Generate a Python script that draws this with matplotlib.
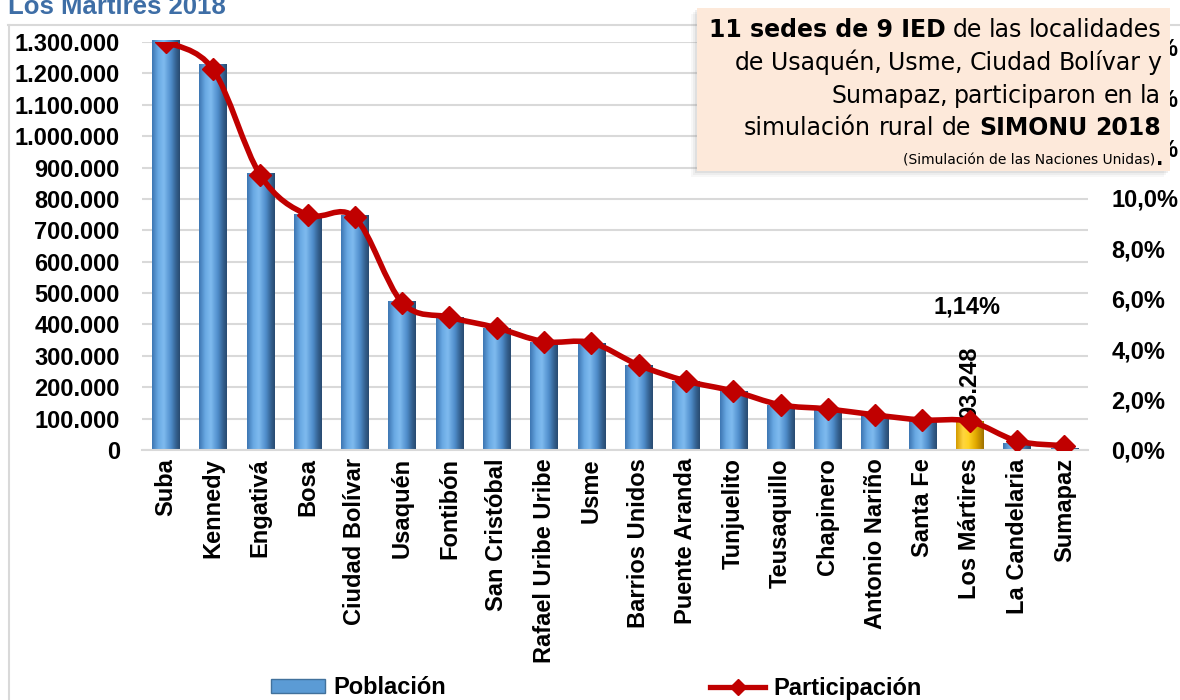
import matplotlib
matplotlib.use("Agg")
import matplotlib.pyplot as plt
import numpy as np
from matplotlib.path import Path
from matplotlib.patches import PathPatch, Rectangle, Patch
from matplotlib.lines import Line2D
from matplotlib.colors import LinearSegmentedColormap

# ---------------- data ----------------
localidades = ["Suba", "Kennedy", "Engativá", "Bosa", "Ciudad Bolívar", "Usaquén",
               "Fontibón", "San Cristóbal", "Rafael Uribe Uribe", "Usme",
               "Barrios Unidos", "Puente Aranda", "Tunjuelito", "Teusaquillo",
               "Chapinero", "Antonio Nariño", "Santa Fe", "Los Mártires",
               "La Candelaria", "Sumapaz"]
poblacion = [1306000, 1230000, 883000, 753000, 748000, 476000,
             424000, 390000, 345000, 342000,
             272000, 221000, 188000, 142000,
             129000, 110000, 92000, 93248,
             22000, 7000]
participacion = [16.20, 15.11, 10.91, 9.33, 9.23, 5.85,
                 5.27, 4.85, 4.30, 4.26,
                 3.37, 2.74, 2.34, 1.79,
                 1.63, 1.39, 1.19, 1.14,
                 0.36, 0.17]
highlight = "Los Mártires"
label_bar = "93.248"
label_pct = "1,14%"
left_ticks = list(range(0, 1300001, 100000))
right_ticks = list(range(0, 17, 2))
title = "Los Mártires 2018"
legend_labels = ["Población", "Participación"]

W, H = 1180, 700
fig = plt.figure(figsize=(W / 100, H / 100), dpi=100)

def fx(x):
    return x / W

def fy(y):
    return 1 - y / H

FONT = "Liberation Sans"
FS = 17

ax = fig.add_axes([fx(142), fy(450), (1088 - 142) / W, (450 - 42) / H])
ax2 = ax.twinx()

x = np.arange(len(localidades))

blue_cmap = LinearSegmentedColormap.from_list(
    "b", [(0, "#3D76B2"), (0.22, "#69A9E3"), (0.42, "#7FBBEF"), (0.68, "#4F8DCB"),
          (0.88, "#335F8D"), (1, "#284A70")])
gold_cmap = LinearSegmentedColormap.from_list(
    "g", [(0, "#D39A00"), (0.25, "#FFD640"), (0.45, "#FFD324"), (0.72, "#E0A800"),
          (0.9, "#B98600"), (1, "#9C7000")])
grad = np.linspace(0, 1, 64).reshape(1, -1)

bars = ax.bar(x, poblacion, width=0.58, color="none", edgecolor="none", zorder=2)
for name, rect in zip(localidades, bars):
    cmap = gold_cmap if name == highlight else blue_cmap
    x0 = rect.get_x()
    w = rect.get_width()
    h = rect.get_height()
    im = ax.imshow(grad, cmap=cmap, extent=[x0, x0 + w, 0, h], aspect="auto",
                   zorder=2, interpolation="bicubic")
    im.set_clip_path(rect)

ax.set_xlim(-0.5, len(localidades) - 0.5)
ax.set_ylim(0, 1300000)
ax.set_yticks(left_ticks)
ax.set_yticklabels([f"{v:,}".replace(",", ".") for v in left_ticks])
ax.set_xticks(x)
ax.set_xticklabels(localidades, rotation=90, va="top", ha="center")
ax.grid(axis="y", color="#D9D9D9", lw=1.5, zorder=0)
ax.set_axisbelow(True)
for s in ["top", "left", "right"]:
    ax.spines[s].set_visible(False)
ax.spines["bottom"].set_color("#D9D9D9")
ax.spines["bottom"].set_linewidth(1.5)
ax.tick_params(axis="y", length=0, pad=16)
ax.tick_params(axis="x", length=0, pad=6)
for lab in ax.get_yticklabels() + ax.get_xticklabels():
    lab.set_fontfamily(FONT)
    lab.set_fontweight("bold")
    lab.set_fontsize(FS)

# bar label
i_h = localidades.index(highlight)
ax.annotate(label_bar, (x[i_h], poblacion[i_h]), xytext=(0, 1.5), textcoords="offset points",
            rotation=90, ha="center", va="bottom", fontfamily=FONT, fontweight="bold",
            fontsize=FS, zorder=5)

# smoothed line (Catmull-Rom style Bezier)
def smooth_path(xs, ys):
    verts = [(xs[0], ys[0])]
    codes = [Path.MOVETO]
    n = len(xs)
    for i in range(n - 1):
        p0 = i - 1 if i > 0 else i
        p3 = i + 2 if i + 2 < n else i + 1
        c1 = (xs[i] + (xs[i + 1] - xs[p0]) / 6, ys[i] + (ys[i + 1] - ys[p0]) / 6)
        c2 = (xs[i + 1] - (xs[p3] - xs[i]) / 6, ys[i + 1] - (ys[p3] - ys[i]) / 6)
        verts += [c1, c2, (xs[i + 1], ys[i + 1])]
        codes += [Path.CURVE4] * 3
    return Path(verts, codes)

RED = "#C00000"
ax2.add_patch(PathPatch(smooth_path(list(x), participacion), fill=False, edgecolor=RED,
                        lw=4.0, capstyle="round", joinstyle="round", zorder=3))
ax2.plot(x, participacion, linestyle="none", marker="D", color=RED, ms=11, zorder=4)
ax2.set_ylim(0, 408 / 25.2)
ax2.set_yticks(right_ticks)
ax2.set_yticklabels([f"{v:.1f}".replace(".", ",") + "%" for v in right_ticks])
ax2.tick_params(axis="y", length=0, pad=17)
for s in ["top", "left", "right", "bottom"]:
    ax2.spines[s].set_visible(False)
for lab in ax2.get_yticklabels():
    lab.set_fontfamily(FONT)
    lab.set_fontweight("bold")
    lab.set_fontsize(FS)
ax2.annotate(label_pct, (x[i_h], participacion[i_h]), xytext=(-2, 82), textcoords="offset points",
             ha="center", va="center", fontfamily=FONT, fontweight="bold", fontsize=FS)

# frame lines
fig.add_artist(Line2D([fx(8.5), fx(8.5)], [fy(25), fy(700)], color="#D9D9D9", lw=1.5,
                      transform=fig.transFigure))
fig.add_artist(Line2D([fx(8), fx(1180)], [fy(25), fy(25)], color="#D9D9D9", lw=1.5,
                      transform=fig.transFigure))

# title (cut at top)
fig.text(fx(8), fy(14), title, fontfamily=FONT, fontweight="bold", fontsize=18.5,
         color="#3E6EA6", va="baseline", ha="left")

# legend
handles = [Patch(facecolor="#5B9BD5", edgecolor="#41719C"),
           Line2D([], [], color=RED, lw=3.8, marker="D", ms=8)]
fig.legend(handles, legend_labels, loc="center", bbox_to_anchor=(fx(596), fy(688)), ncol=2,
           frameon=False, handlelength=2.3, handleheight=0.5, columnspacing=11.2,
           handletextpad=0.35, prop={"family": FONT, "weight": "bold", "size": FS})

# text box with shadow
bx0, by0, bx1, by1 = 697, 8, 1170, 171
for k, a in [(6, 0.06), (4, 0.08), (2, 0.12)]:
    fig.add_artist(Rectangle((fx(bx0 - k), fy(by1 + k)), (bx1 - bx0) / W, (by1 - by0) / H,
                             transform=fig.transFigure, facecolor="#808080", alpha=a,
                             edgecolor="none", zorder=5))
fig.add_artist(Rectangle((fx(bx0), fy(by1)), (bx1 - bx0) / W, (by1 - by0) / H,
                         transform=fig.transFigure, facecolor="#FDE9DA", edgecolor="none",
                         zorder=6))

renderer = fig.canvas.get_renderer()
BOXFONT = "DejaVu Sans"
BS = 17

def justified(words, xl, xr, yb, size=BS):
    objs = []
    for w, bold in words:
        t = fig.text(0, fy(yb), w, fontfamily=BOXFONT, fontsize=size,
                     fontweight="bold" if bold else "normal", va="baseline", ha="left",
                     zorder=7)
        objs.append(t)
    widths = [t.get_window_extent(renderer).width for t in objs]
    gap = (xr - xl - sum(widths)) / (len(objs) - 1)
    cx = xl
    for t, w in zip(objs, widths):
        t.set_x(fx(cx))
        cx += w + gap

RX = 1161
justified([("11 sedes de 9 IED", 1), ("de", 0), ("las", 0), ("localidades", 0)], 709, RX, 37)
justified([("de", 0), ("Usaquén,", 0), ("Usme,", 0), ("Ciudad", 0), ("Bolívar", 0), ("y", 0)],
          735, RX, 70)
justified([("Sumapaz,", 0), ("participaron", 0), ("en", 0), ("la", 0)], 831, RX, 103)
justified([("simulación", 0), ("rural", 0), ("de", 0), ("SIMONU", 1), ("2018", 1)],
          744, RX, 135)
t_dot = fig.text(fx(RX + 2), fy(165), ".", fontfamily=BOXFONT, fontsize=14, fontweight="bold",
                 ha="right", va="baseline", zorder=7)
wdot = t_dot.get_window_extent(renderer).width
fig.text(fx(RX + 2 - wdot), fy(165), "(Simulación de las Naciones Unidas)", fontfamily=BOXFONT,
         fontsize=10, ha="right", va="baseline", zorder=7)

fig.savefig("out.png", dpi=100)
